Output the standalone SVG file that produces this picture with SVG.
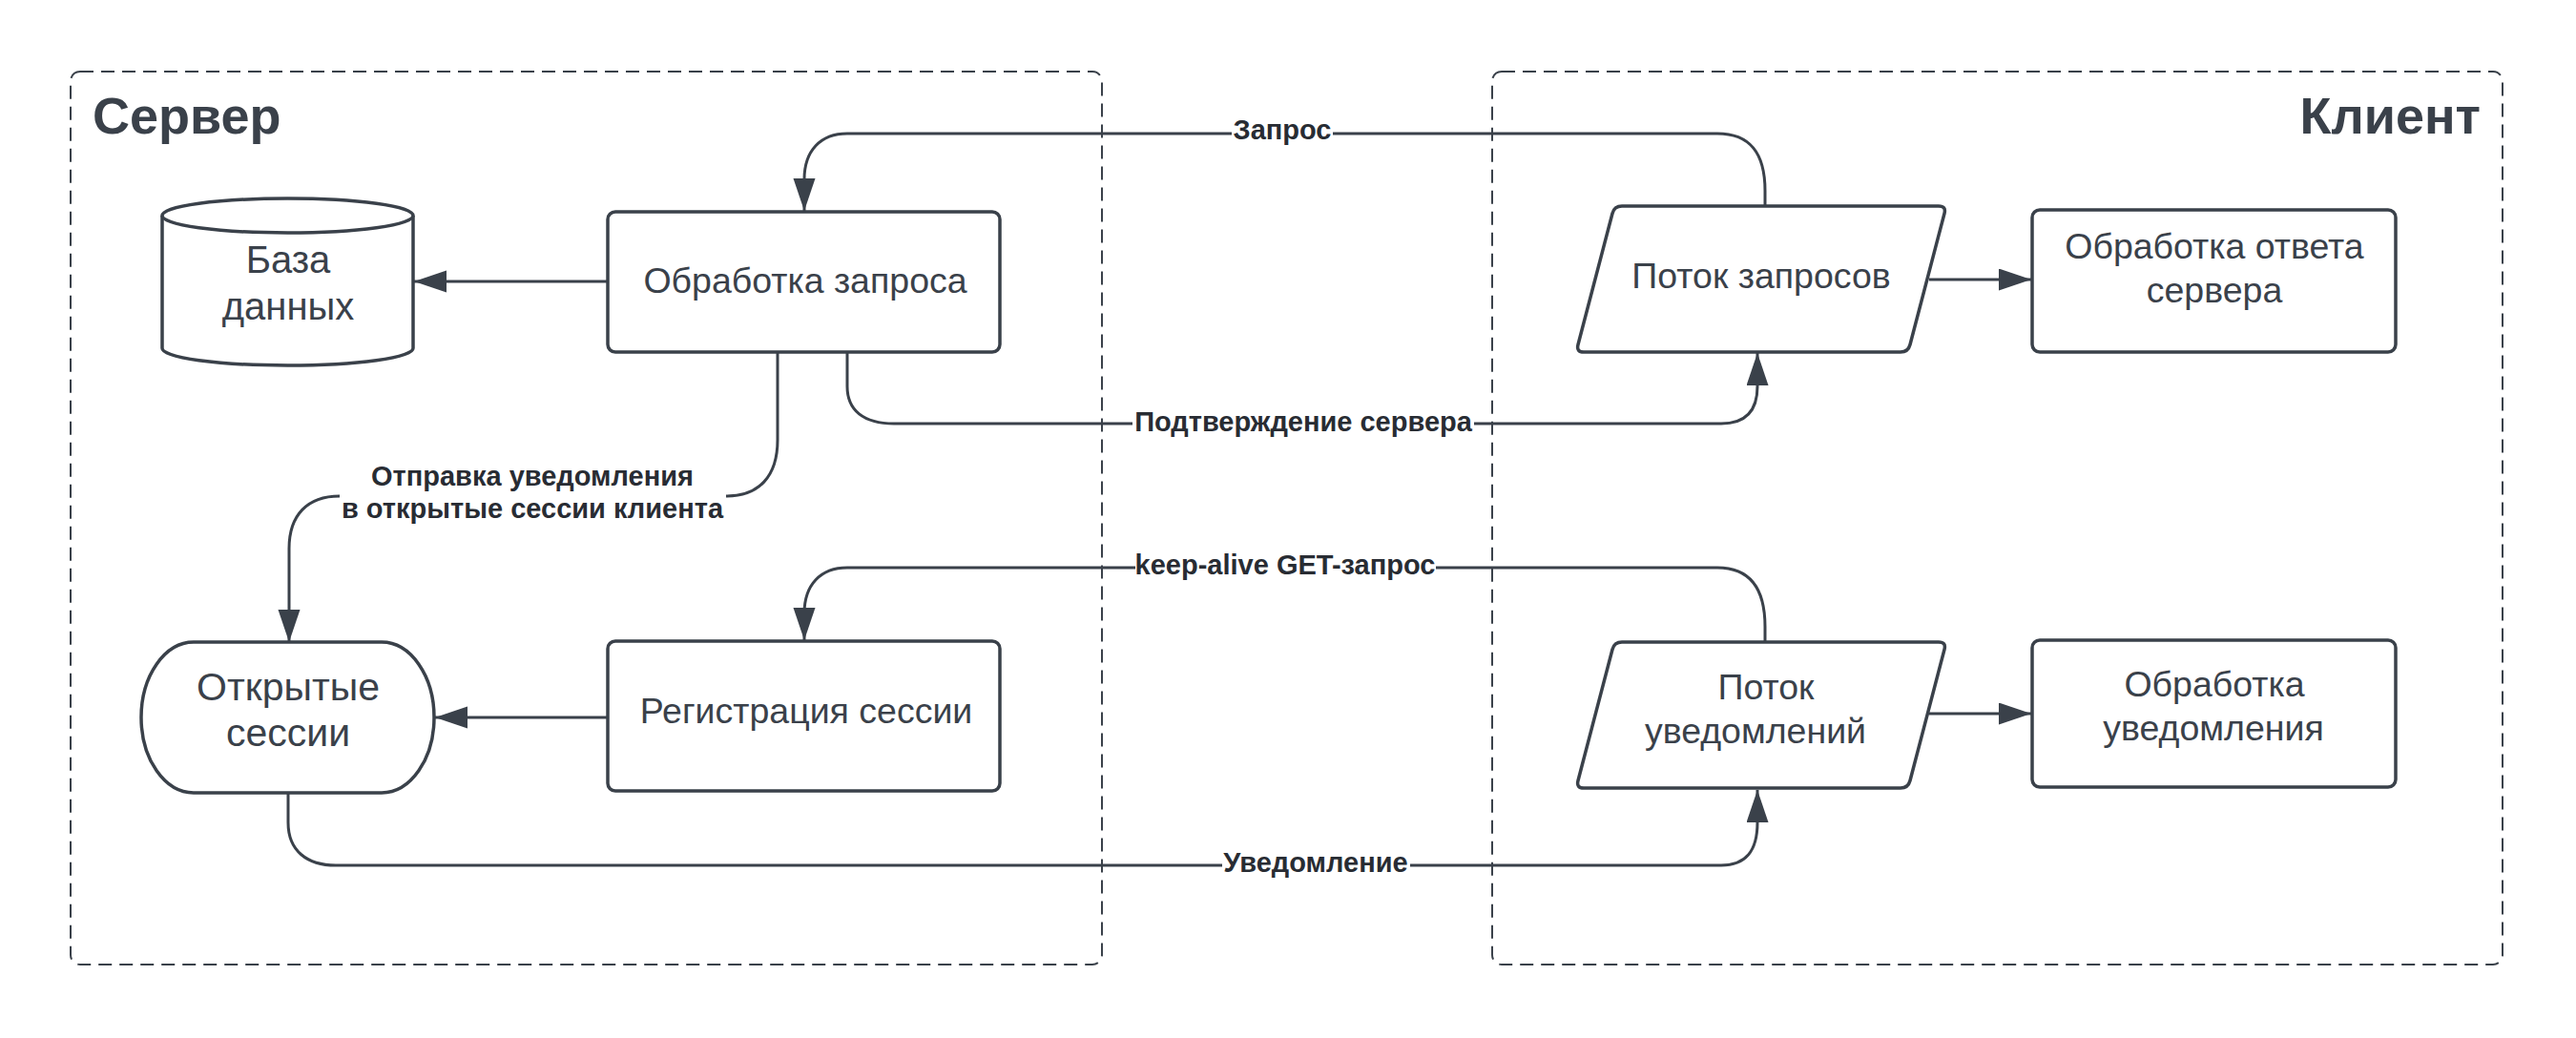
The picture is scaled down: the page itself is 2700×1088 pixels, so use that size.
<svg xmlns="http://www.w3.org/2000/svg" width="2700" height="1088" viewBox="0 0 2700 1088">
<style>
.container{fill:none;stroke:#3a414a;stroke-width:2;stroke-dasharray:14 8}
.title{font-family:"Liberation Sans",Arial,sans-serif;font-weight:bold;font-size:54px;fill:#3a414a}
.shape{fill:#ffffff;stroke:#3a414a;stroke-width:3.5}
.ntext{font-family:"Liberation Sans",Arial,sans-serif;font-size:37.5px;fill:#3a414a;text-anchor:middle}
.conn{fill:none;stroke:#3a414a;stroke-width:3}
.lbg{fill:#ffffff}
.ltext{font-family:"Liberation Sans",Arial,sans-serif;font-weight:bold;font-size:29px;fill:#282c33;text-anchor:middle}
</style>
<defs>
<marker id="arr" markerUnits="userSpaceOnUse" markerWidth="36" markerHeight="24" refX="34" refY="11.5" orient="auto">
<path d="M0,0 L34,11.5 L0,23 Z" fill="#3a414a"/>
</marker>
</defs>
<rect width="2700" height="1088" fill="#ffffff"/>

<g id="container-server">
<rect class="container" x="74" y="75" width="1081" height="936" rx="10"/>
<text class="title" x="97" y="140">Сервер</text>
</g>
<g id="container-client">
<rect class="container" x="1564" y="75" width="1059" height="936" rx="10"/>
<text class="title" x="2600" y="140" text-anchor="end">Клиент</text>
</g>

<g id="connectors">
<path class="conn" d="M1850,216 L1850,200 C1850,160 1834,140 1800,140 L888,140 C860,140 843,158 843,188 L843,221" marker-end="url(#arr)"/>
<path class="conn" d="M888,369 L888,405 C888,430 905,444 937,444 L1804,444 C1830,444 1842,430 1842,405 L1842,370" marker-end="url(#arr)"/>
<path class="conn" d="M815,369 L815,461 C815,500 795,520 761,520 L356,520 C322,520 303,540 303,575 L303,673" marker-end="url(#arr)"/>
<path class="conn" d="M637,295 L434,295" marker-end="url(#arr)"/>
<path class="conn" d="M2022,293 L2129,293" marker-end="url(#arr)"/>
<path class="conn" d="M1850,673 L1850,657 C1850,617 1834,595 1800,595 L888,595 C860,595 843,613 843,643 L843,671" marker-end="url(#arr)"/>
<path class="conn" d="M637,752 L456,752" marker-end="url(#arr)"/>
<path class="conn" d="M302,831 L302,862 C302,892 322,907 352,907 L1804,907 C1830,907 1842,892 1842,862 L1842,828" marker-end="url(#arr)"/>
<path class="conn" d="M2022,748 L2129,748" marker-end="url(#arr)"/>

<rect class="lbg" x="1291" y="123" width="106" height="34"/>
<text class="ltext" x="1344" y="146">Запрос</text>
<rect class="lbg" x="1187" y="427" width="358" height="34"/>
<text class="ltext" x="1366" y="452">Подтверждение сервера</text>
<rect class="lbg" x="1190" y="578" width="315" height="34"/>
<text class="ltext" x="1347" y="602">keep-alive GET-запрос</text>
<rect class="lbg" x="1281" y="890" width="197" height="34"/>
<text class="ltext" x="1379" y="914">Уведомление</text>
<rect class="lbg" x="356" y="484" width="405" height="68"/>
<text class="ltext" x="558" y="509">Отправка уведомления</text>
<text class="ltext" x="558" y="543">в открытые сессии клиента</text>
</g>

<g id="node-db">
<path class="shape" d="M170,226 A131.5,18 0 0 1 433,226 L433,365 A131.5,18 0 0 1 170,365 Z"/>
<path class="shape" fill="none" d="M170,226 A131.5,18 0 0 0 433,226"/>
<text class="ntext" x="302" y="286" style="font-size:40px">База</text>
<text class="ntext" x="302" y="335" style="font-size:40px">данных</text>
</g>

<g id="node-process-request">
<rect class="shape" x="637" y="222" width="411" height="147" rx="8"/>
<text class="ntext" x="844" y="307">Обработка запроса</text>
</g>

<g id="node-request-stream">
<path class="shape" d="M1700,216 L2032,216 Q2040,216 2038,223.7 L2002,361.3 Q2000,369 1992,369 L1660,369 Q1652,369 1654,361.3 L1690,223.7 Q1692,216 1700,216 Z"/>
<text class="ntext" x="1846" y="302">Поток запросов</text>
</g>

<g id="node-process-response">
<rect class="shape" x="2130" y="220" width="381" height="149" rx="8"/>
<text class="ntext" x="2321" y="271">Обработка ответа</text>
<text class="ntext" x="2321" y="317">сервера</text>
</g>

<g id="node-open-sessions">
<rect class="shape" x="148" y="673" width="307" height="158" rx="55" ry="79"/>
<text class="ntext" x="302" y="734" style="font-size:41px">Открытые</text>
<text class="ntext" x="302" y="782" style="font-size:41px">сессии</text>
</g>

<g id="node-register-session">
<rect class="shape" x="637" y="672" width="411" height="157" rx="8"/>
<text class="ntext" x="845" y="758">Регистрация сессии</text>
</g>

<g id="node-notification-stream">
<path class="shape" transform="translate(0,457)" d="M1700,216 L2032,216 Q2040,216 2038,223.7 L2002,361.3 Q2000,369 1992,369 L1660,369 Q1652,369 1654,361.3 L1690,223.7 Q1692,216 1700,216 Z"/>
<text class="ntext" x="1851" y="733">Поток</text>
<text class="ntext" x="1840" y="779">уведомлений</text>
</g>

<g id="node-process-notification">
<rect class="shape" x="2130" y="671" width="381" height="154" rx="8"/>
<text class="ntext" x="2321" y="730">Обработка</text>
<text class="ntext" x="2320" y="776">уведомления</text>
</g>
</svg>
